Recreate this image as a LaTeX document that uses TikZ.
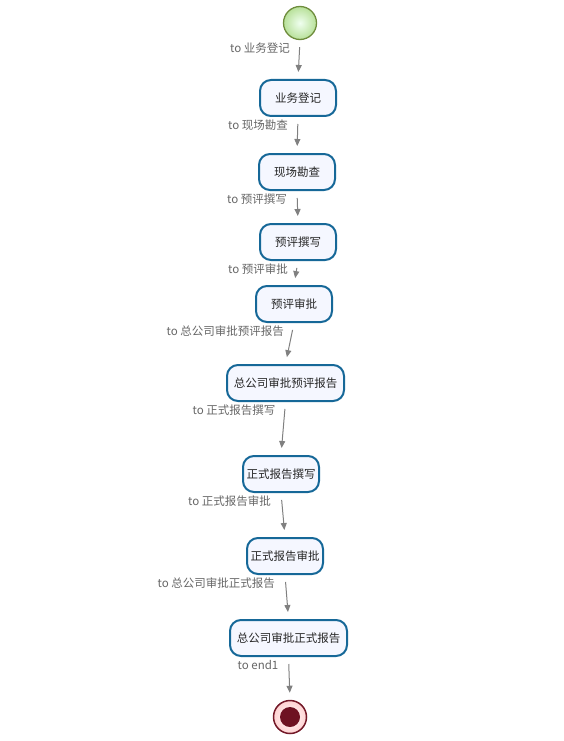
\documentclass[tikz,border=0pt]{standalone}
\usepackage{fontspec}
\setmainfont{Noto Sans CJK SC}
\usetikzlibrary{calc,arrows.meta}
\definecolor{boxline}{RGB}{22,104,152}
\definecolor{boxfill}{RGB}{245,247,255}
\definecolor{startline}{RGB}{110,140,60}
\definecolor{endline}{RGB}{115,25,40}
\definecolor{endcore}{RGB}{110,18,34}
\tikzset{task/.style={draw=boxline,line width=2pt,fill=boxfill,rounded corners=11pt,
    minimum width=76pt,minimum height=36pt,inner xsep=3pt,font=\fontsize{11.5}{13}\selectfont,text=black!85},
  wide/.style={minimum width=117pt},
  flow/.style={draw=black!50,line width=1pt,-{Triangle[length=7pt,width=6pt]},shorten <=7pt,shorten >=7pt},
  lbl/.style={anchor=east,text=black!60,font=\fontsize{11.5}{13}\selectfont,inner sep=0pt}}

\begin{document}
\begin{tikzpicture}[x=1pt,y=-1pt]
    \useasboundingbox (0,0) rectangle (563,741);
    % start and end
    \node[circle,draw=startline,line width=1.3pt,minimum size=33pt,inner sep=0pt,
        inner color=green!6!white,outer color=green!40!olive!40!white] (start) at (300,23) {};
    \node[task] (dj) at (298,98) {业务登记};
    \node[task] (kc) at (297,172) {现场勘查};
    \node[task] (zx) at (298,242) {预评撰写};
    \node[task] (sp) at (294,304) {预评审批};
    \node[task,wide] (zgs1) at (285.5,383) {总公司审批预评报告};
    \node[task] (zszx) at (281,474) {正式报告撰写};
    \node[task] (zssp) at (285,556) {正式报告审批};
    \node[task,wide] (zgs2) at (288.5,638) {总公司审批正式报告};
    \node[circle,draw=endline,line width=1.5pt,minimum size=33pt,inner sep=0pt,
        inner color=white,outer color=red!18!white] (end1) at (290,717) {};
    \fill[endcore] (end1.center) circle (10pt);
    % transitions
    \foreach \a/\b/\t in {start/dj/业务登记,dj/kc/现场勘查,kc/zx/预评撰写,zx/sp/预评审批,
        sp/zgs1/总公司审批预评报告,zgs1/zszx/正式报告撰写,zszx/zssp/正式报告审批,
        zssp/zgs2/总公司审批正式报告,zgs2/end1/end1}
    {
        \draw[flow] (\a.south) -- (\b.north);
        \node[lbl] at ($(\a.south)+(-10,8)$) {to \t};
    }
\end{tikzpicture}
\end{document}
